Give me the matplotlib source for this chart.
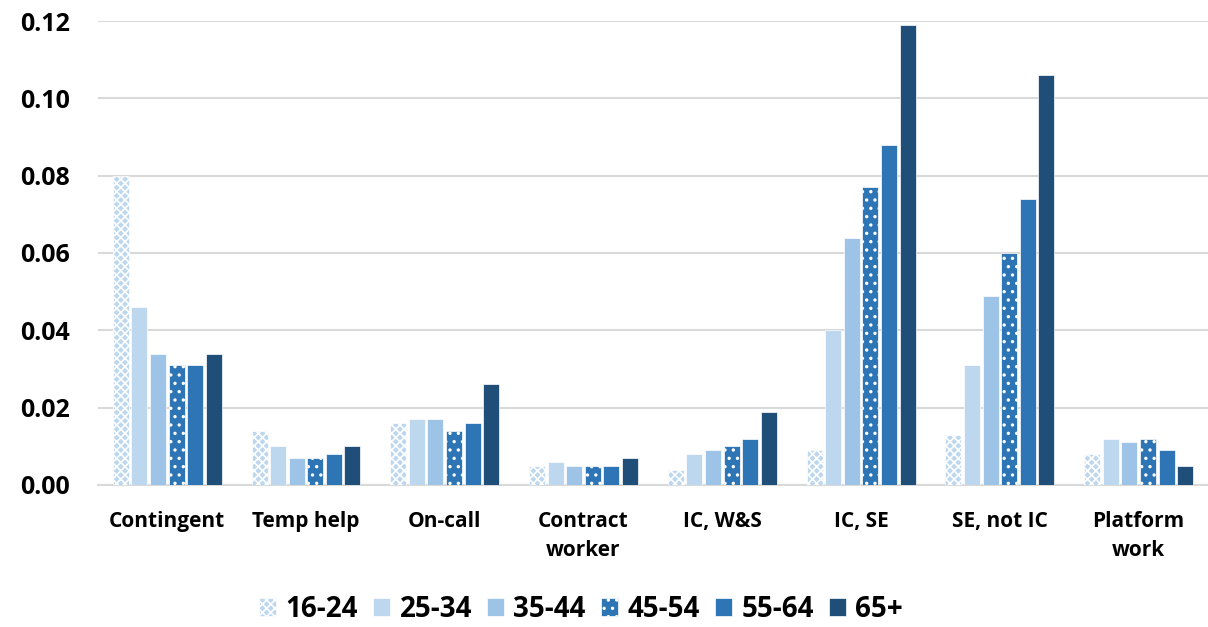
import matplotlib.pyplot as plt
import numpy as np

categories = ["Contingent", "Temp help", "On-call", "Contract\nworker",
              "IC, W&S", "IC, SE", "SE, not IC", "Platform\nwork"]
age_groups = ["16-24", "25-34", "35-44", "45-54", "55-64", "65+"]

v_16_24 = [0.080, 0.014, 0.016, 0.005, 0.004, 0.009, 0.013, 0.008]
v_25_34 = [0.046, 0.010, 0.017, 0.006, 0.008, 0.040, 0.031, 0.012]
v_35_44 = [0.034, 0.007, 0.017, 0.005, 0.009, 0.064, 0.049, 0.011]
v_45_54 = [0.031, 0.007, 0.014, 0.005, 0.010, 0.077, 0.060, 0.012]
v_55_64 = [0.031, 0.008, 0.016, 0.005, 0.012, 0.088, 0.074, 0.009]
v_65up = [0.034, 0.010, 0.026, 0.007, 0.019, 0.119, 0.106, 0.005]

series = [v_16_24, v_25_34, v_35_44, v_45_54, v_55_64, v_65up]
colors = ["#BDD7EE", "#BDD7EE", "#9DC3E6", "#2E75B6", "#2E75B6", "#1F4E79"]
hatches = ["xxxx", None, None, "..", None, None]

plt.rcParams['font.family'] = ['Open Sans', 'DejaVu Sans']
plt.rcParams['font.weight'] = 'bold'
plt.rcParams['hatch.linewidth'] = 1.2

fig = plt.figure(figsize=(12.08, 6.27), dpi=100)
ax = fig.add_axes([0.081, 0.2265, 0.919, 0.74])

x = np.arange(len(categories))
width = 0.134
for i, (vals, c, h, lab) in enumerate(zip(series, colors, hatches, age_groups)):
    offs = (i - 2.5) * width
    ax.bar(x + offs, vals, width * 0.86, color=c, hatch=h, edgecolor="white",
           linewidth=0.5, label=lab, zorder=3)

ax.set_xlim(-0.5, len(categories) - 0.5)
ax.set_ylim(0, 0.12)
yt = np.arange(0, 0.121, 0.02)
ax.set_yticks(yt)
ax.set_yticklabels([f"{t:.2f}" for t in yt], fontsize=18, fontweight='bold')
ax.set_xticks(x)
ax.set_xticklabels(categories, fontsize=15, fontweight='bold', linespacing=1.45)
ax.tick_params(axis='both', length=0)
ax.tick_params(axis='y', pad=20)
ax.tick_params(axis='x', pad=19)
ax.yaxis.grid(True, color="#D9D9D9", linewidth=1.5, zorder=0)
for s in ["top", "right", "left"]:
    ax.spines[s].set_visible(False)
ax.spines["bottom"].set_color("#D9D9D9")
ax.spines["bottom"].set_linewidth(1.5)

leg = fig.legend(loc="lower center", ncol=6, bbox_to_anchor=(0.481, -0.035), frameon=False,
                 prop={'size': 20, 'weight': 'bold'}, handlelength=0.6, handleheight=0.6,
                 columnspacing=0.55, handletextpad=0.35)

fig.savefig("out.png", dpi=100)
